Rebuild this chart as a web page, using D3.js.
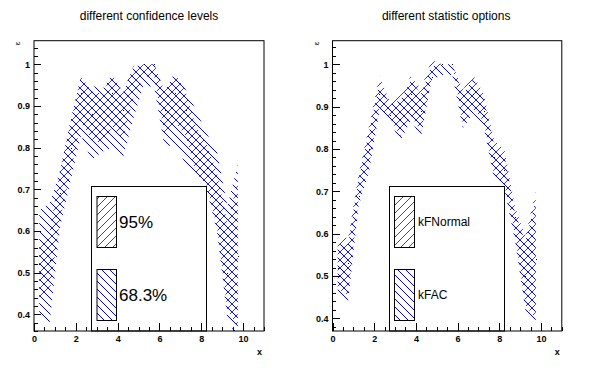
<!DOCTYPE html>
<html><head><meta charset="utf-8">
<script src="https://cdn.jsdelivr.net/npm/d3@7"></script>
<style>
body{margin:0;background:#fff}
svg{display:block}
text{font-family:"Liberation Sans",Arial,Helvetica,sans-serif}
</style>
</head><body>
<svg id="c" width="596" height="372"></svg>
<script>
// ---------- data ----------
const binCenters = [0.25,0.75,1.25,1.75,2.25,2.75,3.25,3.75,4.25,4.75,5.25,5.75,6.25,6.75,7.25,7.75,8.25,8.75,9.25,9.75];
const effValues  = [0.52,0.53,0.69,0.80,0.93,0.88,0.87,0.93,0.89,0.97,1.00,1.00,0.89,0.93,0.89,0.78,0.75,0.64,0.50,0.54];

// left panel: different confidence levels
const leftRedLow   = [0.44,0.45,0.63,0.74,0.86,0.82,0.81,0.85,0.82,0.92,0.97,0.97,0.83,0.86,0.83,0.74,0.71,0.61,0.41,0.37];
const leftRedHigh  = [0.57,0.60,0.745,0.86,0.972,0.935,0.93,0.975,0.935,0.995,1.0,1.0,0.935,0.978,0.935,0.85,0.81,0.74,0.62,0.72];
const leftBlueLow  = [0.39,0.38,0.61,0.72,0.83,0.77,0.79,0.80,0.775,0.87,0.95,0.945,0.80,0.81,0.76,0.73,0.70,0.60,0.39,0.34];
const leftBlueHigh = [0.65,0.667,0.746,0.866,0.974,0.95,0.938,0.978,0.93,0.994,1.0,1.0,0.935,0.982,0.94,0.89,0.835,0.79,0.66,0.76];

// right panel: different statistic options
const rightRedLow   = [0.47,0.455,0.68,0.76,0.90,0.875,0.83,0.88,0.84,0.965,1.0,1.0,0.86,0.895,0.865,0.74,0.715,0.60,0.43,0.40];
const rightRedHigh  = [0.59,0.59,0.74,0.853,0.972,0.912,0.927,0.971,0.943,1.01,1.0,1.0,0.94,0.975,0.931,0.821,0.798,0.664,0.593,0.70];
const rightBlueLow  = [0.455,0.44,0.665,0.746,0.888,0.868,0.817,0.868,0.829,0.963,0.975,0.975,0.849,0.884,0.853,0.73,0.703,0.585,0.42,0.38];
const rightBlueHigh = [0.575,0.575,0.73,0.84,0.955,0.905,0.915,0.96,0.93,0.995,1.0,1.0,0.93,0.965,0.92,0.81,0.785,0.65,0.58,0.68];

const xMajorTicks = [0,2,4,6,8,10];
const yMajorTicks = [0.4,0.5,0.6,0.7,0.8,0.9,1.0];
const panelTitles = ["different confidence levels","different statistic options"];
const legendLabels = [["95%","68.3%"],["kFNormal","kFAC"]];
const xTitle = "x";
const yTitle = "\u03b5";

// ---------- drawing ----------
const svg = d3.select("#c");
const defs = svg.append("defs");
function hatch(id, color, dir){
  const p = 8;
  const pat = defs.append("pattern").attr("id", id)
    .attr("patternUnits","userSpaceOnUse").attr("width",p).attr("height",p);
  const d = dir === "/" ?
    `M0,${p} L${p},0 M${-p/2},${p/2} L${p/2},${-p/2} M${p/2},${p*1.5} L${p*1.5},${p/2}` :
    `M0,0 L${p},${p} M${-p/2},${p/2} L${p/2},${p*1.5} M${p/2},${-p/2} L${p*1.5},${p/2}`;
  pat.append("path").attr("d", d).attr("stroke", color).attr("stroke-width",1)
    .attr("fill","none").attr("shape-rendering","crispEdges");
}
hatch("hRed", "#ff0000", "/");
hatch("hBlue", "#0000ff", "\\");

const panels = [
  {x0:34, x1:264, y0:40.7, y1:331, yDom:[0.36,1.0566],
   red:[leftRedLow,leftRedHigh], blue:[leftBlueLow,leftBlueHigh],
   legend:{x0:91.5,x1:206.5,y0:186.5, box0:97, box1:116.5, textX:119, fs:17}},
  {x0:332.5, x1:561.8, y0:40.7, y1:331, yDom:[0.370,1.0558],
   red:[rightRedLow,rightRedHigh], blue:[rightBlueLow,rightBlueHigh],
   legend:{x0:389.5,x1:504.5,y0:186.5, box0:394.5, box1:414.5, textX:418, fs:12}}
];

panels.forEach((P, i) => {
  const g = svg.append("g");
  const x = d3.scaleLinear().domain([0,11]).range([P.x0, P.x1]);
  const y = d3.scaleLinear().domain(P.yDom).range([P.y1, P.y0]);

  const clipId = "clip"+i;
  defs.append("clipPath").attr("id", clipId).append("rect")
    .attr("x",P.x0).attr("y",P.y0).attr("width",P.x1-P.x0).attr("height",P.y1-P.y0);

  const band = (lo, hi) => d3.area()
    .x((d,k) => x(binCenters[k]))
    .y0((d,k) => y(lo[k]))
    .y1((d,k) => y(hi[k]))(binCenters);

  const bands = g.append("g").attr("clip-path", `url(#${clipId})`);
  bands.append("path").attr("d", band(P.blue[0], P.blue[1])).attr("fill","url(#hBlue)");
  bands.append("path").attr("d", band(P.red[0], P.red[1])).attr("fill","url(#hRed)");
  bands.selectAll("rect.pt").data(binCenters).join("rect").attr("class","pt")
    .attr("x", (d) => Math.round(x(d))).attr("y", (d,k) => Math.round(y(effValues[k])))
    .attr("width",1).attr("height",1).attr("fill","#000");

  // legend
  const L = P.legend;
  g.append("rect").attr("x",L.x0).attr("y",L.y0).attr("width",L.x1-L.x0).attr("height",P.y1-L.y0)
    .attr("fill","#fff").attr("stroke","#000").attr("stroke-width",1);
  const entries = [
    {fill:"url(#hRed)", top:196.5, bot:247.5, label:legendLabels[i][0]},
    {fill:"url(#hBlue)", top:269.5, bot:320.5, label:legendLabels[i][1]}
  ];
  entries.forEach(e => {
    g.append("rect").attr("x",L.box0).attr("y",e.top).attr("width",L.box1-L.box0).attr("height",e.bot-e.top)
      .attr("fill",e.fill).attr("stroke","#000").attr("stroke-width",1);
    g.append("text").attr("x",L.textX).attr("y",(e.top+e.bot)/2).attr("dy","0.36em")
      .attr("font-size",L.fs).attr("fill","#000").text(e.label);
  });

  // frame
  g.append("rect").attr("x",P.x0).attr("y",P.y0).attr("width",P.x1-P.x0).attr("height",P.y1-P.y0)
    .attr("fill","none").attr("stroke","#000").attr("stroke-width",1);

  // axes
  const xMinor = d3.range(0, 11.001, 0.5).filter(v => !xMajorTicks.includes(v));
  const yMinor = d3.range(0.36, 1.0566, 0.02).map(v => +v.toFixed(2)).filter(v => !yMajorTicks.some(t => Math.abs(t-v)<1e-6) && v >= P.yDom[0]-1e-6);

  g.append("g").attr("transform",`translate(0,${P.y1})`)
    .call(d3.axisBottom(x).tickValues(xMajorTicks).tickSize(-8).tickPadding(5).tickFormat(d3.format("d")));
  g.append("g").attr("transform",`translate(0,${P.y1})`)
    .call(d3.axisBottom(x).tickValues(xMinor).tickSize(-4).tickFormat(""));
  g.append("g").attr("transform",`translate(${P.x0},0)`)
    .call(d3.axisLeft(y).tickValues(yMajorTicks).tickSize(-7).tickPadding(4).tickFormat(d => d===1 ? "1" : d3.format(".1f")(d)));
  g.append("g").attr("transform",`translate(${P.x0},0)`)
    .call(d3.axisLeft(y).tickValues(yMinor).tickSize(-3.5).tickFormat(""));
  g.selectAll(".domain").remove();
  g.selectAll(".tick line").attr("stroke","#000").attr("shape-rendering","crispEdges");
  g.selectAll(".tick text").attr("font-size",9).attr("font-weight","bold").attr("fill","#000")
    .attr("font-family","'Liberation Sans',Arial,sans-serif");

  // titles
  svg.append("text").attr("x",(P.x0+P.x1)/2 + (i===0?0:-1)).attr("y",20).attr("text-anchor","middle")
    .attr("font-size",12).attr("fill","#000").text(panelTitles[i]);
  svg.append("text").attr("x",P.x1-2).attr("y",355).attr("text-anchor","end")
    .attr("font-size",9).attr("font-weight","bold").attr("fill","#000").text(xTitle);
  svg.append("text").attr("transform",`translate(${P.x0-14},${P.y0+1}) rotate(-90)`)
    .attr("text-anchor","end").attr("font-size",8).attr("fill","#000").text(yTitle);
});
</script>
</body></html>
